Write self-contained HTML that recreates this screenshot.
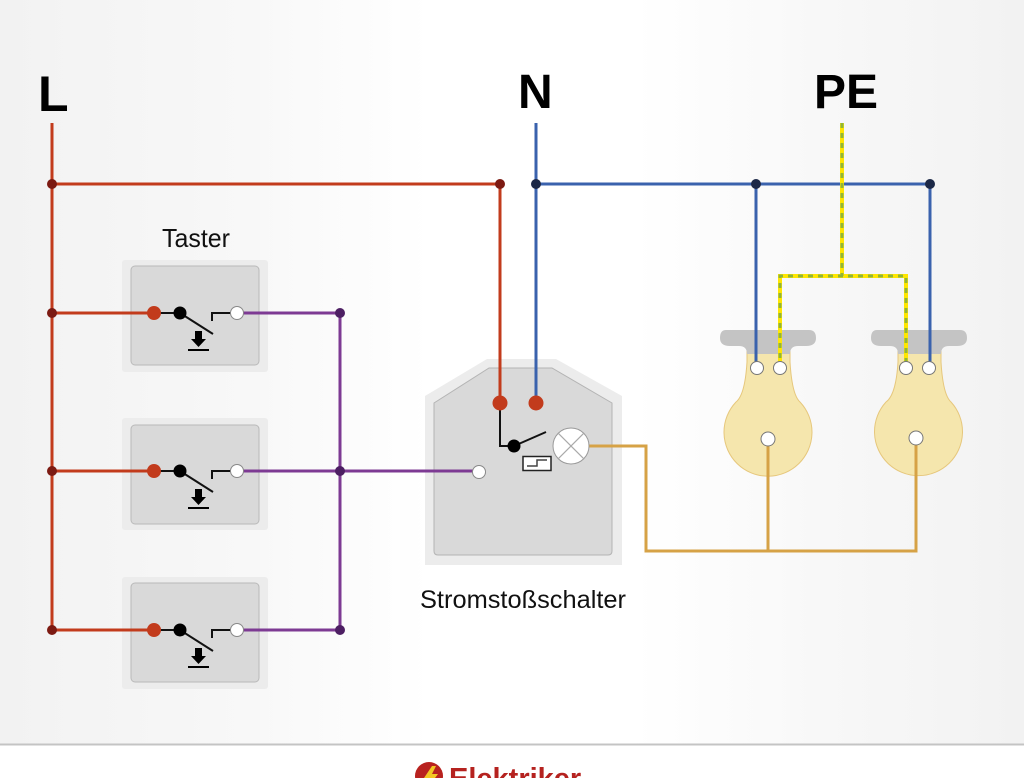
<!DOCTYPE html>
<html><head><meta charset="utf-8"><style>
html,body{margin:0;padding:0}
body{width:1024px;height:778px;overflow:hidden;position:relative;background:#fff;font-family:"Liberation Sans",sans-serif}
.bg{position:absolute;left:0;top:0;width:1024px;height:744px;background:linear-gradient(90deg,#f2f2f2 0%,#f8f8f8 25%,#fff 42%,#fff 62%,#f8f8f8 80%,#f2f2f2 100%)}
svg{position:absolute;left:0;top:0}
</style></head><body>
<div class="bg"></div>
<svg width="1024" height="778" viewBox="0 0 1024 778" xmlns="http://www.w3.org/2000/svg">
<line x1="0" y1="744.5" x2="1024" y2="744.5" stroke="#c4c4c4" stroke-width="2"/>
<!-- labels -->
<text x="38" y="111" font-family="Liberation Sans" font-weight="bold" font-size="50" fill="#000">L</text>
<text x="518" y="108" font-family="Liberation Sans" font-weight="bold" font-size="48" fill="#000">N</text>
<text x="814" y="108" font-family="Liberation Sans" font-weight="bold" font-size="48" fill="#000">PE</text>
<text x="162" y="247" font-family="Liberation Sans" font-size="26" fill="#111" textLength="68" lengthAdjust="spacingAndGlyphs">Taster</text>
<text x="420" y="608" font-family="Liberation Sans" font-size="25" fill="#111" textLength="206" lengthAdjust="spacingAndGlyphs">Stromstoßschalter</text>

<!-- switch boxes -->
<g>
<rect x="122" y="260" width="146" height="112" rx="3" fill="#ececec"/>
<rect x="131" y="266" width="128" height="99" rx="4" fill="#d9d9d9" stroke="#b9b9b9" stroke-width="1"/>
<rect x="122" y="418" width="146" height="112" rx="3" fill="#ececec"/>
<rect x="131" y="425" width="128" height="99" rx="4" fill="#d9d9d9" stroke="#b9b9b9" stroke-width="1"/>
<rect x="122" y="577" width="146" height="112" rx="3" fill="#ececec"/>
<rect x="131" y="583" width="128" height="99" rx="4" fill="#d9d9d9" stroke="#b9b9b9" stroke-width="1"/>
</g>

<!-- Stromstoss box -->
<polygon points="487,359 556,359 622,396 622,565 425,565 425,396" fill="#ececec"/>
<path d="M489,368 L552,368 L612,403 L612,551 Q612,555 608,555 L438,555 Q434,555 434,551 L434,403 Z" fill="#d9d9d9" stroke="#b4b4b4" stroke-width="1"/>

<!-- lamps -->
<g>
<path d="M747,350 L790,350 L790,362 Q792,395 800,402 A44,44 0 1 1 736,402 Q745,395 747,362 Z" fill="#f5e6ad" stroke="#e6c77c" stroke-width="1"/>
<path d="M726,330 L809,330 Q816,330 816,338 Q816,346 806,346 L798,346 Q790,346 790,354 L747,354 Q747,346 739,346 L730,346 Q720,346 720,338 Q720,330 726,330 Z" fill="#c4c4c4"/>
<path d="M898,350 L941,350 L941,362 Q943,395 951,402 A44,44 0 1 1 886,402 Q896,395 898,362 Z" fill="#f5e6ad" stroke="#e6c77c" stroke-width="1"/>
<path d="M877,330 L960,330 Q967,330 967,338 Q967,346 957,346 L949,346 Q941,346 941,354 L898,354 Q898,346 890,346 L881,346 Q871,346 871,338 Q871,330 877,330 Z" fill="#c4c4c4"/>
</g>

<!-- wires: L red -->
<g fill="none" stroke="#c23b1c" stroke-width="3">
<line x1="52" y1="123" x2="52" y2="630"/>
<polyline points="52,184 500,184 500,402"/>
<line x1="52" y1="313" x2="154" y2="313"/>
<line x1="52" y1="471" x2="154" y2="471"/>
<line x1="52" y1="630" x2="154" y2="630"/>
</g>
<!-- N blue -->
<g fill="none" stroke="#3a62ad" stroke-width="3">
<line x1="536" y1="123" x2="536" y2="402"/>
<line x1="536" y1="184" x2="930" y2="184"/>
<line x1="756" y1="184" x2="756" y2="368"/>
<line x1="930" y1="184" x2="930" y2="368"/>
</g>
<!-- PE -->
<g fill="none">
<polyline points="842,123 842,276" stroke="#ffe600" stroke-width="4"/>
<polyline points="780,368 780,276 906,276 906,368" stroke="#ffe600" stroke-width="4"/>
<polyline points="842,123 842,276" stroke="#8fb53a" stroke-width="3" stroke-dasharray="5,5"/>
<polyline points="780,368 780,276 906,276 906,368" stroke="#8fb53a" stroke-width="3" stroke-dasharray="5,5"/>
</g>
<!-- purple -->
<g fill="none" stroke="#7d3a93" stroke-width="3">
<line x1="237" y1="313" x2="340" y2="313"/>
<line x1="237" y1="471" x2="478" y2="471"/>
<line x1="237" y1="630" x2="340" y2="630"/>
<line x1="340" y1="313" x2="340" y2="630"/>
</g>
<!-- orange -->
<g fill="none" stroke="#d6a246" stroke-width="3">
<polyline points="589,446 646,446 646,551 916,551 916,438"/>
<line x1="768" y1="551" x2="768" y2="438"/>
</g>

<!-- junction dots -->
<g fill="#7c1a12">
<circle cx="52" cy="184" r="5"/><circle cx="52" cy="313" r="5"/><circle cx="52" cy="471" r="5"/><circle cx="52" cy="630" r="5"/><circle cx="500" cy="184" r="5"/>
</g>
<g fill="#1c2847">
<circle cx="536" cy="184" r="5"/><circle cx="756" cy="184" r="5"/><circle cx="930" cy="184" r="5"/>
</g>
<g fill="#4d1f63">
<circle cx="340" cy="313" r="5"/><circle cx="340" cy="471" r="5"/><circle cx="340" cy="630" r="5"/>
</g>

<!-- switch symbols -->
<g>
<line x1="154" y1="313" x2="180" y2="313" stroke="#111" stroke-width="2"/>
<line x1="180" y1="313" x2="213" y2="334" stroke="#111" stroke-width="2"/>
<polyline points="212,321 212,313 237,313" fill="none" stroke="#111" stroke-width="2"/>
<circle cx="154" cy="313" r="7" fill="#c23b1c"/>
<circle cx="180" cy="313" r="6.5" fill="#000"/>
<circle cx="237" cy="313" r="6.5" fill="#fff" stroke="#888" stroke-width="1"/>
<polygon points="195,331 202,331 202,339 206,339 198.5,347 191,339 195,339" fill="#000"/>
<line x1="188" y1="350" x2="209" y2="350" stroke="#000" stroke-width="2"/>
</g>
<g transform="translate(0,158)">
<line x1="154" y1="313" x2="180" y2="313" stroke="#111" stroke-width="2"/>
<line x1="180" y1="313" x2="213" y2="334" stroke="#111" stroke-width="2"/>
<polyline points="212,321 212,313 237,313" fill="none" stroke="#111" stroke-width="2"/>
<circle cx="154" cy="313" r="7" fill="#c23b1c"/>
<circle cx="180" cy="313" r="6.5" fill="#000"/>
<circle cx="237" cy="313" r="6.5" fill="#fff" stroke="#888" stroke-width="1"/>
<polygon points="195,331 202,331 202,339 206,339 198.5,347 191,339 195,339" fill="#000"/>
<line x1="188" y1="350" x2="209" y2="350" stroke="#000" stroke-width="2"/>
</g>
<g transform="translate(0,317)">
<line x1="154" y1="313" x2="180" y2="313" stroke="#111" stroke-width="2"/>
<line x1="180" y1="313" x2="213" y2="334" stroke="#111" stroke-width="2"/>
<polyline points="212,321 212,313 237,313" fill="none" stroke="#111" stroke-width="2"/>
<circle cx="154" cy="313" r="7" fill="#c23b1c"/>
<circle cx="180" cy="313" r="6.5" fill="#000"/>
<circle cx="237" cy="313" r="6.5" fill="#fff" stroke="#888" stroke-width="1"/>
<polygon points="195,331 202,331 202,339 206,339 198.5,347 191,339 195,339" fill="#000"/>
<line x1="188" y1="350" x2="209" y2="350" stroke="#000" stroke-width="2"/>
</g>

<!-- Stromstoss internals -->
<polyline points="500,403 500,446 514,446" fill="none" stroke="#111" stroke-width="2"/>
<line x1="514" y1="446" x2="546" y2="432" stroke="#111" stroke-width="2"/>
<circle cx="500" cy="403" r="7.5" fill="#c23b1c"/>
<circle cx="536" cy="403" r="7.5" fill="#c23b1c"/>
<circle cx="514" cy="446" r="6.5" fill="#000"/>
<rect x="523" y="456.5" width="28" height="14" fill="#fff" stroke="#222" stroke-width="1.5"/>
<polyline points="527,466 537,466 537,460 547,460" fill="none" stroke="#444" stroke-width="1.5"/>
<circle cx="571" cy="446" r="18" fill="#fff" stroke="#999" stroke-width="1"/>
<line x1="558.3" y1="433.3" x2="583.7" y2="458.7" stroke="#aaa" stroke-width="1.2"/>
<line x1="583.7" y1="433.3" x2="558.3" y2="458.7" stroke="#aaa" stroke-width="1.2"/>
<circle cx="479" cy="472" r="6.5" fill="#fff" stroke="#888" stroke-width="1"/>

<!-- lamp terminals -->
<g fill="#fff" stroke="#777" stroke-width="1">
<circle cx="757" cy="368" r="6.5"/><circle cx="780" cy="368" r="6.5"/><circle cx="768" cy="439" r="7"/>
<circle cx="906" cy="368" r="6.5"/><circle cx="929" cy="368" r="6.5"/><circle cx="916" cy="438" r="7"/>
</g>

<!-- logo -->
<circle cx="429" cy="776" r="14" fill="#b8221f"/>
<path d="M432,766 L424,778 L430,778 L426,790 L438,774 L432,774 L436,766 Z" fill="#f3c623"/>
<text x="449" y="788" font-family="Liberation Sans" font-weight="bold" font-size="29" fill="#b5221f">Elektriker</text>
</svg>
</body></html>
